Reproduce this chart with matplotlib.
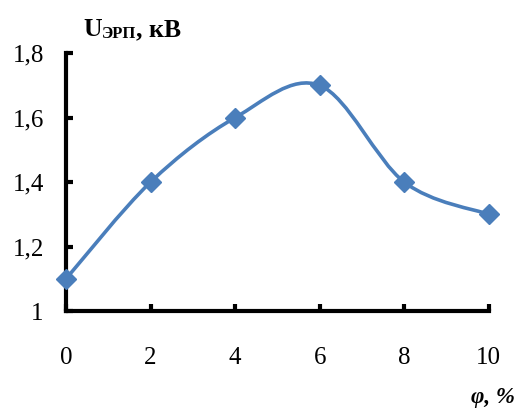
import numpy as np
import matplotlib.pyplot as plt
from matplotlib.path import Path
from matplotlib.patches import PathPatch

# data
phi = [0, 2, 4, 6, 8, 10]
u_erp = [1.1, 1.4, 1.6, 1.7, 1.4, 1.3]
x_ticks = [0, 2, 4, 6, 8, 10]
y_ticks = [1.0, 1.2, 1.4, 1.6, 1.8]
y_labels = ['1', '1,2', '1,4', '1,6', '1,8']

color = '#4a7ebb'
plt.rcParams['font.family'] = ['Liberation Serif', 'DejaVu Serif']


def smooth_path(xs, ys):
    # Excel-like smoothing: cubic Bezier segments with Catmull-Rom tangents
    pts = np.column_stack([xs, ys]).astype(float)
    n = len(pts)
    verts = [pts[0]]
    codes = [Path.MOVETO]
    for i in range(n - 1):
        p0 = pts[i - 1] if i > 0 else pts[i]
        p1 = pts[i]
        p2 = pts[i + 1]
        p3 = pts[i + 2] if i + 2 < n else pts[i + 1]
        c1 = p1 + (p2 - p0) / 6.0
        c2 = p2 - (p3 - p1) / 6.0
        verts += [c1, c2, p2]
        codes += [Path.CURVE4] * 3
    return Path(verts, codes)


fig = plt.figure(figsize=(5.2, 4.09), dpi=100)
ax = fig.add_axes([0.127, 0.2396, 0.813, 0.6304])

curve = PathPatch(smooth_path(phi, u_erp), facecolor='none', edgecolor=color,
                  lw=2.6, transform=ax.transData, zorder=3, clip_on=False)
ax.add_patch(curve)
ax.plot(phi, u_erp, linestyle='none', marker='D', ms=10.5, color=color,
        zorder=4, clip_on=False)

ax.set_xlim(0, 10)
ax.set_ylim(1.0, 1.8)
ax.set_xticks(x_ticks)
ax.set_xticklabels([str(v) for v in x_ticks])
ax.set_yticks(y_ticks)
ax.set_yticklabels(y_labels)

for side in ['top', 'right']:
    ax.spines[side].set_visible(False)
for side in ['left', 'bottom']:
    ax.spines[side].set_linewidth(3)
ax.tick_params(direction='in', length=5, width=3, labelsize=18)
ax.tick_params(axis='x', pad=26)
ax.tick_params(axis='y', pad=16)

# axis titles
t1 = fig.text(83 / 520, 1 - 36 / 409, 'U', fontsize=18.5, fontweight='bold',
              va='baseline', ha='left')
fig.canvas.draw()
r = fig.canvas.get_renderer()
bb = t1.get_window_extent(r)
t2 = fig.text(bb.x1 / 520, 1 - 38 / 409, 'ЭРП', fontsize=12, fontweight='bold',
              va='baseline', ha='left')
bb2 = t2.get_window_extent(r)
fig.text(bb2.x1 / 520, 1 - 36 / 409, ', кВ', fontsize=18.5, fontweight='bold',
         va='baseline', ha='left')

fig.text(515 / 520, 1 - 403 / 409, 'φ, %', fontsize=16.5, fontweight='bold',
         fontstyle='italic', va='baseline', ha='right')

fig.savefig('out.png', dpi=100)
